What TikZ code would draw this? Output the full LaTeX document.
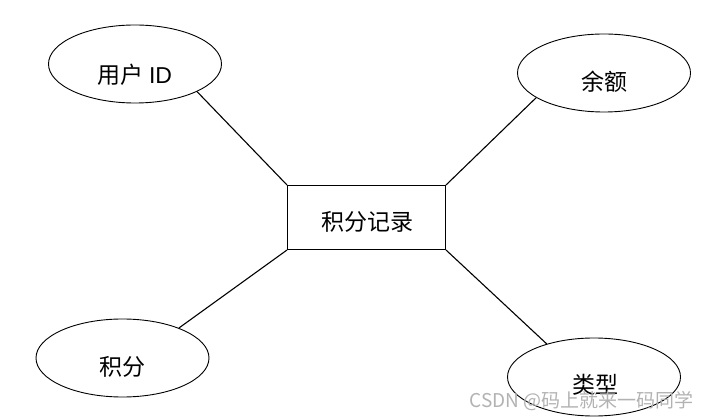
\documentclass[tikz,border=0pt]{standalone}
\usepackage{fontspec}
\setmainfont{Liberation Sans}
\newfontfamily\cjk{Noto Sans CJK SC}
\usetikzlibrary{shapes.geometric}
\tikzset{
  attr/.style={draw, ellipse, line width=0.9pt, minimum width=173pt, minimum height=78pt, inner sep=0pt},
  ent/.style={draw, rectangle, line width=1.1pt, minimum width=158pt, minimum height=64pt, inner sep=0pt},
  lbl/.style={font=\cjk\fontsize{23}{23}\selectfont},
  conn/.style={line width=1.1pt}
}
\begin{document}
\begin{tikzpicture}[x=1pt,y=-1pt]
\useasboundingbox (0,0) rectangle (711,419);
\node[attr] (e1) at (135,64) {};
\node[lbl] (t1) at (135,75) {用户 \fontspec{Liberation Sans}ID};
\node[attr] (e2) at (604,73) {};
\node[lbl] (t2) at (604,82) {余额};
\node[attr] (e3) at (122.5,358) {};
\node[lbl] (t3) at (122.5,367) {积分};
\node[attr] (e4) at (594,377) {};
\node[lbl] (t4) at (595,385) {类型};
\node[ent] (r) at (366.5,217.5) {};
\node[lbl] (tr) at (367,222) {积分记录};
\draw[conn] (r.north west) -- (e1.-24);
\draw[conn] (r.north east) -- (e2.200);
\draw[conn] (r.south west) -- (e3.28);
\draw[conn] (r.south east) -- (e4.145);
\node[font=\cjk\fontsize{19}{19}\selectfont, text=gray!60, anchor=east] (wm) at (697,401) {CSDN @码上就来一码同学};
\end{tikzpicture}
\end{document}
